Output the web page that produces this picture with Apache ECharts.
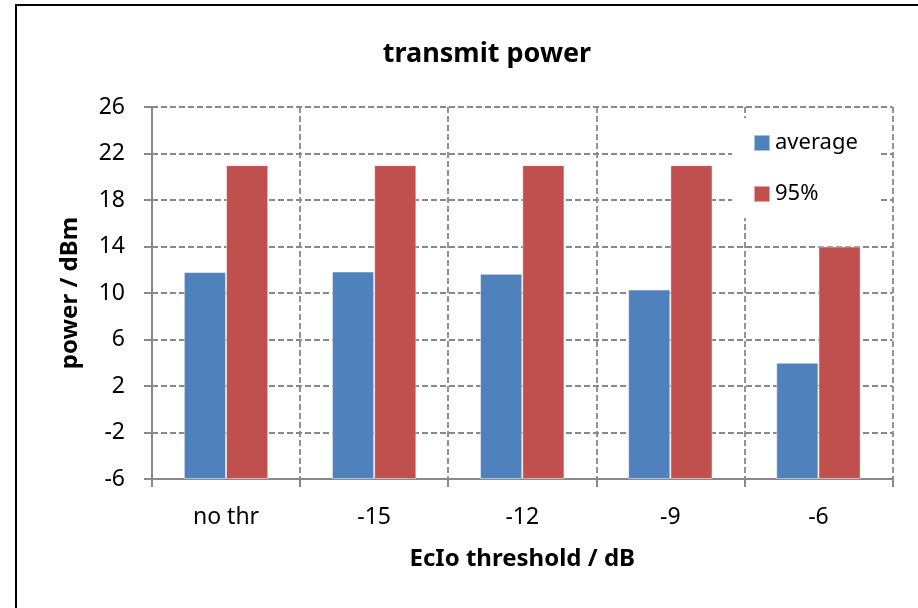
<!DOCTYPE html>
<html>
<head>
<meta charset="utf-8">
<script src="https://cdn.jsdelivr.net/npm/echarts@6/dist/echarts.min.js"></script>
<style>html,body{margin:0;padding:0;background:#fff;}#c{width:918px;height:608px;}</style>
</head>
<body>
<div id="c"></div>
<script>
const categories = ['no thr', '-15', '-12', '-9', '-6'];
const averageValues = [11.8, 11.85, 11.65, 10.3, 4.0];
const p95Values = [21.0, 21.0, 21.0, 21.0, 14.0];
const yMin = -6, yMax = 26, yStep = 4;

const FONT = 'Noto Sans';
const chart = echarts.init(document.getElementById('c'));
const gridColor = '#888888';
chart.setOption({
  backgroundColor: '#ffffff',
  animation: false,
  textStyle: { fontFamily: FONT },
  title: {
    text: 'transmit power',
    left: 482, top: 36, textAlign: 'center',
    textStyle: { fontFamily: FONT, fontSize: 27, fontWeight: 'bold', color: '#000' }
  },
  legend: {
    orient: 'vertical',
    left: 732, top: 118,
    padding: [14, 22, 13, 21],
    backgroundColor: '#ffffff',
    itemWidth: 16, itemHeight: 16, itemGap: 29,
    icon: 'rect',
    textStyle: { fontFamily: FONT, fontSize: 22, color: '#000' },
    data: ['average', '95%']
  },
  grid: { left: 152, right: 25.5, top: 107, bottom: 129, containLabel: false },
  xAxis: {
    type: 'category',
    data: categories,
    name: 'EcIo threshold / dB',
    nameLocation: 'middle',
    nameGap: 68,
    nameTextStyle: { fontFamily: FONT, fontSize: 24, fontWeight: 'bold', color: '#000' },
    axisLine: { onZero: false, lineStyle: { color: gridColor, width: 2 } },
    axisTick: { show: true, alignWithLabel: false, length: 8, lineStyle: { color: gridColor, width: 2 } },
    axisLabel: { margin: 27, fontFamily: FONT, fontSize: 23, color: '#000' },
    splitLine: { show: true, lineStyle: { color: gridColor, width: 1.8, type: [6, 3] } }
  },
  yAxis: {
    type: 'value',
    min: yMin, max: yMax, interval: yStep,
    startValue: yMin,
    name: 'power / dBm',
    nameLocation: 'middle',
    nameGap: 70,
    nameTextStyle: { fontFamily: FONT, fontSize: 24, fontWeight: 'bold', color: '#000' },
    axisLine: { show: true, onZero: false, lineStyle: { color: gridColor, width: 2 } },
    axisTick: { show: true, length: 8, lineStyle: { color: gridColor, width: 2 } },
    axisLabel: { margin: 27, fontFamily: FONT, fontSize: 23, color: '#000' },
    splitLine: { show: true, lineStyle: { color: gridColor, width: 1.8, type: [6, 3] } }
  },
  series: [
    {
      name: 'average', type: 'bar', data: averageValues,
      barGap: '0%', barCategoryGap: '43%',
      itemStyle: { color: '#4F81BD', borderColor: 'rgba(255,255,255,0.5)', borderWidth: 1 }
    },
    {
      name: '95%', type: 'bar', data: p95Values,
      barGap: '0%', barCategoryGap: '43%',
      itemStyle: { color: '#C0504D', borderColor: 'rgba(255,255,255,0.5)', borderWidth: 1 }
    }
  ],
  graphic: [{
    type: 'rect', silent: true, z: 100,
    shape: { x: 16, y: 5, width: 940, height: 640 },
    style: { fill: 'none', stroke: '#000', lineWidth: 2 }
  }]
});
</script>
</body>
</html>
